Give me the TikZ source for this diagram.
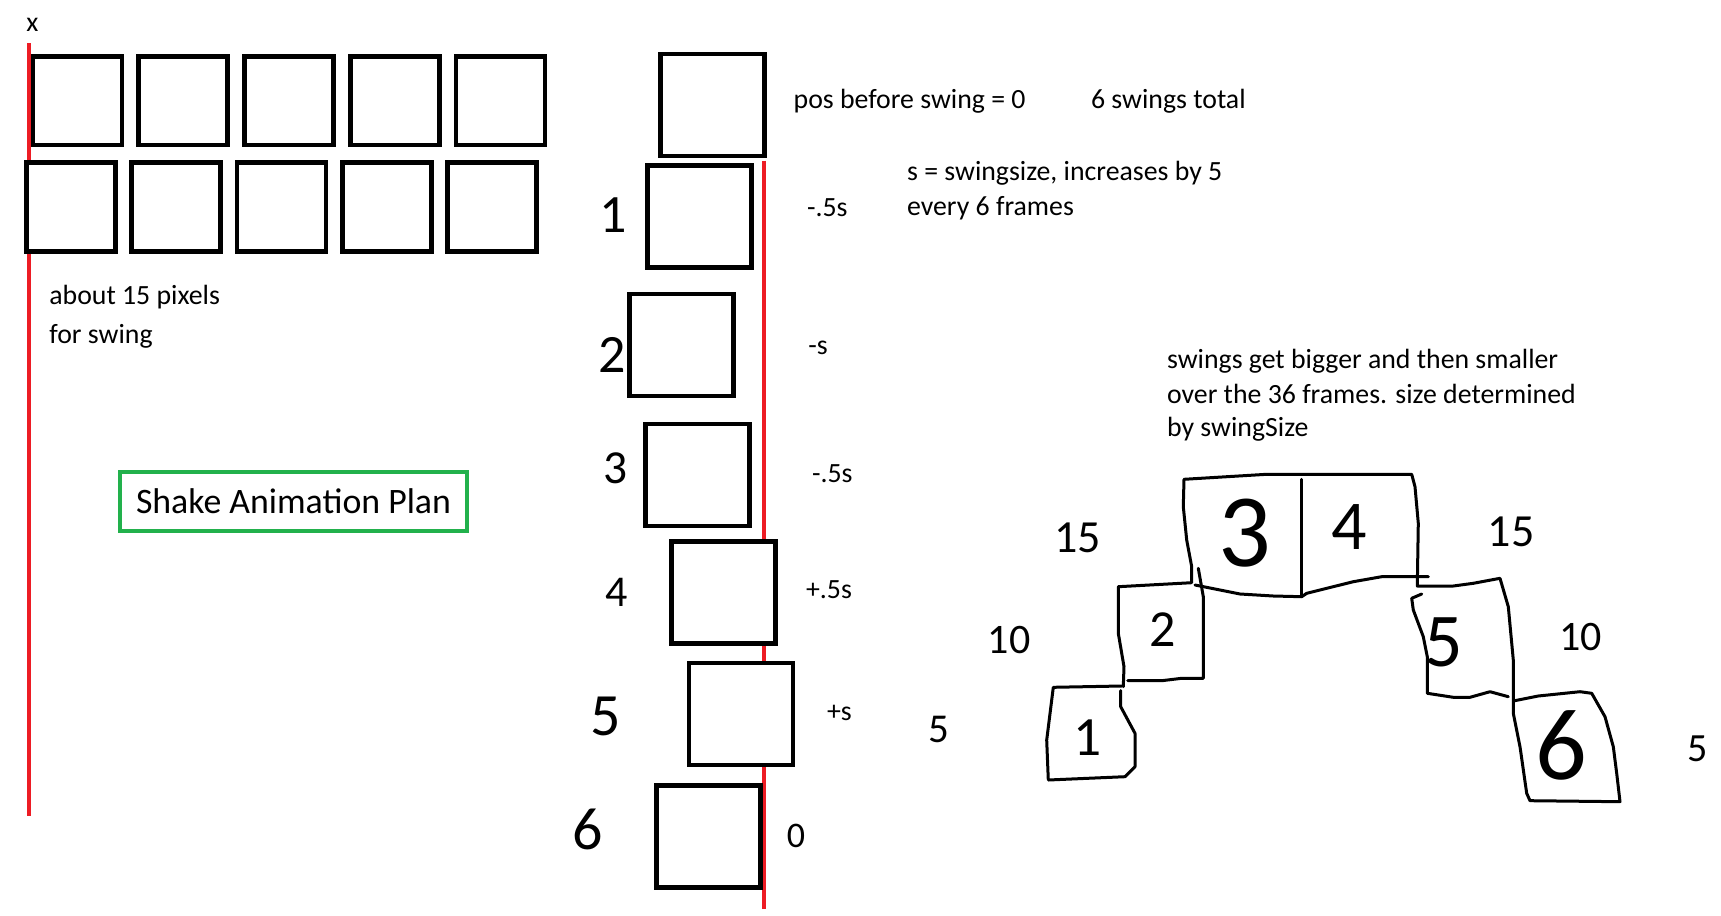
\documentclass[tikz,border=0pt]{standalone}
\usepackage{fontspec}
\setmainfont{Carlito}
\usetikzlibrary{positioning}
\definecolor{paintred}{RGB}{237,28,36}
\definecolor{paintgreen}{RGB}{34,177,76}

\tikzset{
    note/.style={anchor=base west, inner sep=0pt, font=\fontsize{13.9}{17}\selectfont},
    handnum/.style={inner sep=0pt, font=\fontsize{#1}{#1}\selectfont},
    frame/.style={draw=black, line width=2.35pt, fill=white},
    sketch/.style={line width=1.5pt, line cap=round, line join=round},
    guide/.style={draw=paintred, line width=2pt},
}

\begin{document}
\begin{tikzpicture}[x=0.5pt, y=-0.5pt]
    \useasboundingbox (0,0) rectangle (1721,916);

    % Swing range on the left
    \draw[guide] (29.3,43) -- (29.3,815.5);
    \node[note] (xlabel) at (26,31) {x};
    \foreach \i in {0,...,4} {
        \draw[frame] ({33+105.75*\i},56.3) rectangle +(89,88.7);
        \draw[frame] ({26.3+105.35*\i},162.3) rectangle +(89,89);
    }
    \node[note] (pixA) at (49,304) {about 15 pixels};
    \node[note] (pixB) at (49,343) {for swing};

    % Title
    \node[draw=paintgreen, line width=2pt, minimum width=173.5pt, minimum height=29.5pt,
          font=\fontsize{17.9}{20}\selectfont] (title) at (293.5,501.5) {Shake Animation Plan};

    % Swing positions
    \draw[guide] (764.3,160.7) -- (764.3,909.3);
    \foreach \x/\y in {660.5/54, 647.7/165.7, 629.7/294, 645.7/424, 671.7/541.3, 689/663, 656.3/785.7} {
        \draw[frame] (\x,\y) rectangle +(104,102);
    }
    \foreach \n/\x/\y/\s in {1/613/215/27, 2/612.5/355/27, 3/615.5/468/23.7, 4/616.5/592/22, 5/606/716/30, 6/587.5/829/30} {
        \node[handnum=\s] (step\n) at (\x,\y) {\n};
    }
    \node[handnum=18] (zero) at (796,835.5) {0};

    % Offsets
    \node[note] (posA) at (806.7,216.7) {-.5s};
    \node[note] (posB) at (808,354) {-s};
    \node[note] (posC) at (811.7,482) {-.5s};
    \node[note] (posD) at (805.7,598) {+.5s};
    \node[note] (posE) at (826.7,720) {+s};
    \node[handnum=20.5] (fiveL) at (939,729) {5};

    % Notes
    \node[note] (start) at (793.3,108.3) {pos before swing = 0};
    \node[note] (total) at (1090.7,108.3) {6 swings total};
    \node[note] (sizeA) at (906.7,180) {s = swingsize, increases by 5};
    \node[note] (sizeB) at (906.7,215) {every 6 frames};
    \node[note] (growA) at (1166.7,368.3) {swings get bigger and then smaller};
    \node[note] (growB) at (1166.7,403.3) {over the 36 frames. size determined};
    \node[note] (growC) at (1166.7,436.7) {by swingSize};

    % Sketch of the swings
    \draw[sketch] (1121.7,686) -- (1053.3,687.3) -- (1046.7,740) -- (1048.3,780) -- (1125,776.7)
        -- (1135,766.7) -- (1135,733.3) -- (1120.7,706.7) -- (1120.7,690.7);
    \draw[sketch] (1123.3,686.7) -- (1124,666.7) -- (1118.3,633.3) -- (1118.3,586.7) -- (1191.7,582.7)
        -- (1191.7,566.7) -- (1186.7,540) -- (1183.3,506.7) -- (1184,479.3) -- (1266.7,474.3)
        -- (1411.7,474.3) -- (1415,486.7) -- (1418.3,523.3) -- (1417.3,586) -- (1453.3,586)
        -- (1473.3,583.3) -- (1500,578.3) -- (1508.3,606.7) -- (1513.3,660) -- (1513.3,713.3)
        -- (1520,746.7) -- (1526.7,793.3) -- (1530,800.7) -- (1620,801.7) -- (1616.7,773.3)
        -- (1613.3,746.7) -- (1605,716.7) -- (1591.7,693.3) -- (1580,691.7) -- (1538.3,696) -- (1513.3,701);
    \draw[sketch] (1198.3,568.3) -- (1203.3,596.7) -- (1203.3,678.3) -- (1181.7,678.3)
        -- (1161.7,680.7) -- (1127.7,680.7);
    \draw[sketch] (1195,585) -- (1240,594) -- (1273.3,596) -- (1301.7,596.7) -- (1306.7,593.3)
        -- (1353.3,581.7) -- (1381.7,576.7) -- (1428.3,576.7);
    \draw[sketch] (1301.7,479.3) -- (1301.7,596.7);
    \draw[sketch] (1421.7,594) -- (1411.7,598.3) -- (1413.3,610) -- (1423.3,636.7) -- (1427.3,656.7)
        -- (1427.3,693.3) -- (1453.3,697.3) -- (1470,697.3) -- (1490,691.7) -- (1508.3,696.7);
    \foreach \n/\x/\y/\s in {1/1088/737.5/27.7, 2/1163/630/26, 3/1245/533.5/52, 4/1349/527/35, 5/1443.5/642/38, 6/1561/745.5/51} {
        \node[handnum=\s] (swing\n) at (\x,\y) {\n};
    }
    \node[handnum=23] (sizeL15) at (1077.5,537.5) {15};
    \node[handnum=23] (sizeR15) at (1511,531.5) {15};
    \node[handnum=21] (sizeL10) at (1009,640) {10};
    \node[handnum=21] (sizeR10) at (1580.5,637.5) {10};
    \node[handnum=20] (sizeR5) at (1698,749) {5};
\end{tikzpicture}
\end{document}
